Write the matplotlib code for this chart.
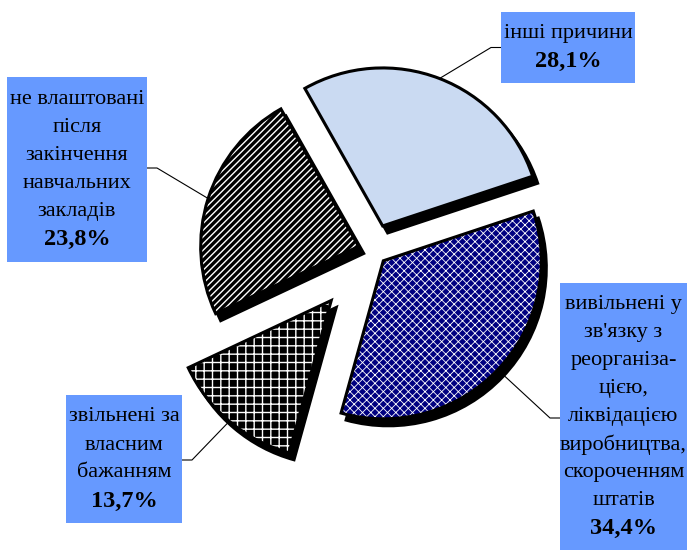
import matplotlib
matplotlib.use('Agg')
import matplotlib.pyplot as plt
from matplotlib.patches import Rectangle
import numpy as np

plt.rcParams['font.family'] = ['Liberation Serif', 'DejaVu Serif']
plt.rcParams['hatch.linewidth'] = 1.0

# частки причин (%)
shares = [28.1, 34.4, 13.7, 23.8]
labels = ['інші причини',
          "вивільнені у\nзв'язку з\nреорганіза-\nцією,\nліквідацією\nвиробництва,\nскороченням\nштатів",
          'звільнені за\nвласним\nбажанням',
          'не влаштовані\nпісля\nзакінчення\nнавчальних\nзакладів']
fills = ['#cadaf2', '#000080', 'black', 'black']
hatches = [None, 'xxxx', '++', '/////']
hatch_lw = [1.0, 0.6, 1.0, 1.0]
explode = [0.17, 0.09, 0.41, 0.095]

# розмітка в пікселях картинки
W, H = 687, 550
R = 158.0            # радіус круга, px
CX, CY = 373, 251    # центр круга, px
START = 119.5
# рамки підписів (x0, y0, x1, y1) і висота лінії-виноски
boxes = [(501, 12, 635, 83), (560, 283, 687, 550), (66, 395, 182, 523), (7, 77, 147, 262)]
leader_y = [47.5, 418, 460, 168]
box_color = '#6699ff'
line_step = 28


def to_data(x, y):
    return (x - CX) / R, (CY - y) / R


fig = plt.figure(figsize=(W / 100, H / 100), dpi=100)
ax = fig.add_axes([0, 0, 1, 1])

pie_kw = dict(explode=explode, startangle=START, counterclock=False, radius=1)

# тінь
sh, _ = ax.pie(shares, center=(5 / R, -7 / R), colors=['black'] * 4,
               wedgeprops=dict(ec='black', lw=2.2), **pie_kw)
# заливка
base, _ = ax.pie(shares, colors=fills, wedgeprops=dict(lw=0), **pie_kw)
# штриховка
hw, _ = ax.pie(shares, colors=fills, wedgeprops=dict(fc='none', ec='white', lw=0), **pie_kw)
for w, h, hl in zip(hw, hatches, hatch_lw):
    w.set_facecolor('none')
    if h:
        w.set_hatch(h)
        if hasattr(w, 'set_hatch_linewidth'):
            w.set_hatch_linewidth(hl)
    else:
        w.set_visible(False)
# контур
outl, _ = ax.pie(shares, colors=fills, wedgeprops=dict(fc='none', ec='black', lw=2.2), **pie_kw)
for w in outl:
    w.set_facecolor('none')
for grp, z in [(sh, 1), (base, 2), (hw, 3), (outl, 4)]:
    for w in grp:
        w.set_zorder(z)

# підписи
for i, (w, box) in enumerate(zip(outl, boxes)):
    x0, y0, x1, y1 = box
    lx, ly = to_data(x0, y1)
    ax.add_patch(Rectangle((lx, ly), (x1 - x0) / R, (y1 - y0) / R,
                           fc=box_color, ec='none', zorder=5))
    lines = labels[i].split('\n')
    pct = f'{shares[i]:.1f}%'.replace('.', ',')
    n = len(lines) + 1
    yc = (y0 + y1) / 2
    xc = (x0 + x1) / 2
    for k, s in enumerate(lines):
        tx, ty = to_data(xc, yc + (k - (n - 1) / 2) * line_step)
        ax.text(tx, ty, s, ha='center', va='center', fontsize=16, zorder=6)
    tx, ty = to_data(xc, yc + (n - 1) / 2 * line_step)
    ax.text(tx, ty, pct, ha='center', va='center', fontsize=17.5,
            fontweight='bold', zorder=6)

    # виноска
    th = np.deg2rad((w.theta1 + w.theta2) / 2)
    ax_, ay_ = w.center[0] + np.cos(th), w.center[1] + np.sin(th)
    if np.cos(th) > 0:
        ex, bx = x0 - 10, x0
    else:
        ex, bx = x1 + 10, x1
    ex, ey = to_data(ex, leader_y[i])
    bx, by = to_data(bx, leader_y[i])
    ax.plot([ax_, ex, bx], [ay_, ey, by], color='black', lw=0.8, zorder=4.5)

ax.set_xlim(-CX / R, (W - CX) / R)
ax.set_ylim(-(H - CY) / R, CY / R)
ax.set_aspect('equal')
ax.axis('off')

fig.savefig('out.png', dpi=100)
